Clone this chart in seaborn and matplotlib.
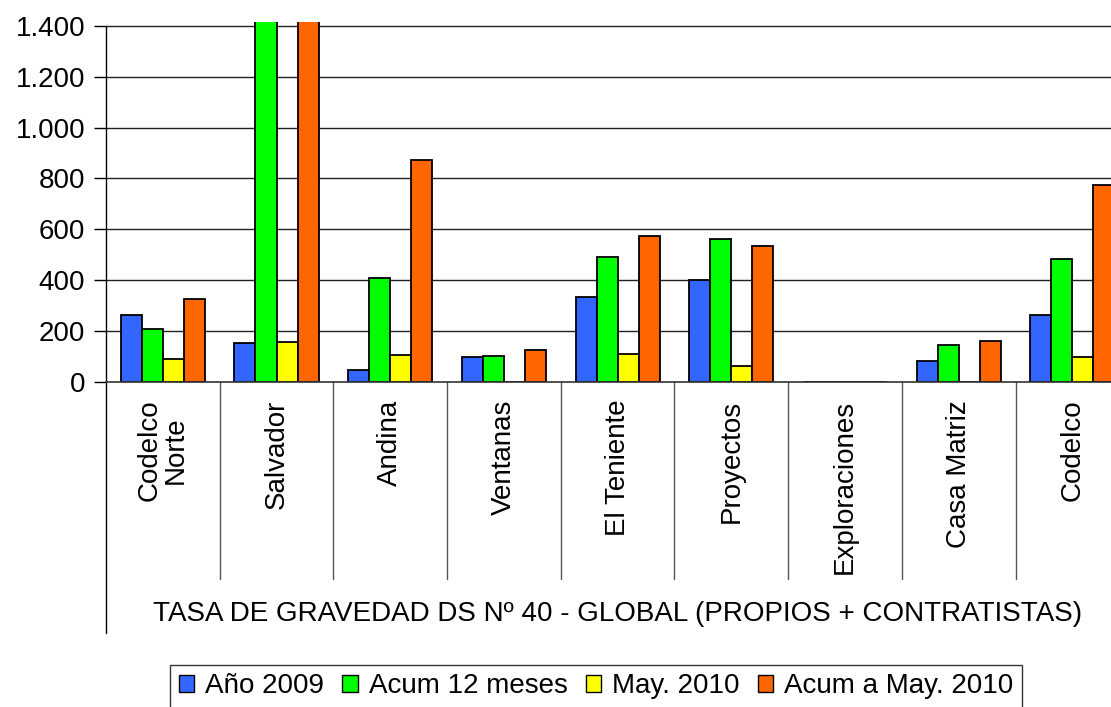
import matplotlib
matplotlib.use("Agg")
import matplotlib.pyplot as plt
import matplotlib.transforms as mtransforms
from matplotlib.patches import Patch
import seaborn as sns
import pandas as pd

categories = ["Codelco\nNorte", "Salvador", "Andina", "Ventanas", "El Teniente",
              "Proyectos", "Exploraciones", "Casa Matriz", "Codelco"]
series_names = ["Año 2009", "Acum 12 meses", "May. 2010", "Acum a May. 2010"]
anio_2009 = [264, 151, 47, 96, 332, 400, 0, 83, 262]
acum_12 = [206, 1600, 408, 102, 492, 560, 0, 144, 483]
may_2010 = [88, 157, 104, 0, 109, 62, 0, 0, 96]
acum_may = [324, 1700, 873, 125, 575, 534, 0, 160, 774]
yticks = [0, 200, 400, 600, 800, 1000, 1200, 1400]
ytick_labels = ["0", "200", "400", "600", "800", "1.000", "1.200", "1.400"]
xtitle = "TASA DE GRAVEDAD DS Nº 40 - GLOBAL (PROPIOS + CONTRATISTAS)"
colors = ["#3366FF", "#00FF00", "#FFFF00", "#FF6600"]

rows = []
for name, vals in zip(series_names, [anio_2009, acum_12, may_2010, acum_may]):
    for c, v in zip(categories, vals):
        rows.append({"cat": c, "serie": name, "valor": v})
df = pd.DataFrame(rows)

sns.set_style("white")
plt.rcParams["font.family"] = ["Liberation Sans", "DejaVu Sans"]
plt.rcParams["text.color"] = "black"
plt.rcParams["ytick.color"] = "black"
plt.rcParams["ytick.labelcolor"] = "black"

fig = plt.figure(figsize=(11.11, 7.07), dpi=100)
ax = fig.add_axes([0.0954, 0.460, 0.921, 0.5086])

sns.barplot(data=df, x="cat", y="valor", hue="serie", order=categories,
            hue_order=series_names, palette=colors, width=0.74,
            edgecolor="black", linewidth=1.3, saturation=1, ax=ax, legend=False)

ax.set_xlim(-0.5, 8.5)
ax.set_ylim(0, 1415)
ax.set_yticks(yticks)
ax.set_yticklabels(ytick_labels, fontsize=20, color="black")
ax.tick_params(axis="y", left=True, direction="out", length=9, width=1,
               color="black", pad=6)
ax.set_xticks([])
ax.set_xlabel("")
ax.set_ylabel("")
ax.set_axisbelow(True)
for t in yticks[1:]:
    ax.axhline(t, color="#222222", lw=1.0, zorder=0)

for s in ["top", "right", "left"]:
    ax.spines[s].set_visible(False)
ax.spines["bottom"].set_color("#333333")
ax.spines["bottom"].set_linewidth(1.2)

trans = mtransforms.blended_transform_factory(ax.transData, ax.transAxes)
# left axis line extended down
ax.plot([-0.5, -0.5], [1400 / 1415, -0.698], transform=trans, color="black",
        lw=1.0, clip_on=False)
# category separators
for i in range(len(categories)):
    ax.plot([i + 0.5, i + 0.5], [0, -0.549], transform=trans, color="#555555",
            lw=1.0, clip_on=False)
# category labels
for i, c in enumerate(categories):
    ax.text(i, -0.050, c, transform=trans, rotation=90, ha="center", va="top",
            fontsize=20, multialignment="center", linespacing=1.0, color="black")

ax.text(0.5, -0.646, xtitle, transform=ax.transAxes, ha="center", va="center",
        fontsize=20, color="black")

handles = [Patch(facecolor=col, edgecolor="black", linewidth=1.0) for col in colors]
leg = fig.legend(handles, series_names, loc="upper center", ncol=4,
                 bbox_to_anchor=(596 / 1111, 1 - 665 / 707), fontsize=20,
                 frameon=True, fancybox=False, handlelength=0.55, handleheight=0.52,
                 handletextpad=0.4, columnspacing=0.65, borderpad=0.3,
                 borderaxespad=0)
leg.get_frame().set_edgecolor("black")
leg.get_frame().set_linewidth(1.0)
for txt in leg.get_texts():
    txt.set_color("black")

fig.savefig("out.png", dpi=100)
